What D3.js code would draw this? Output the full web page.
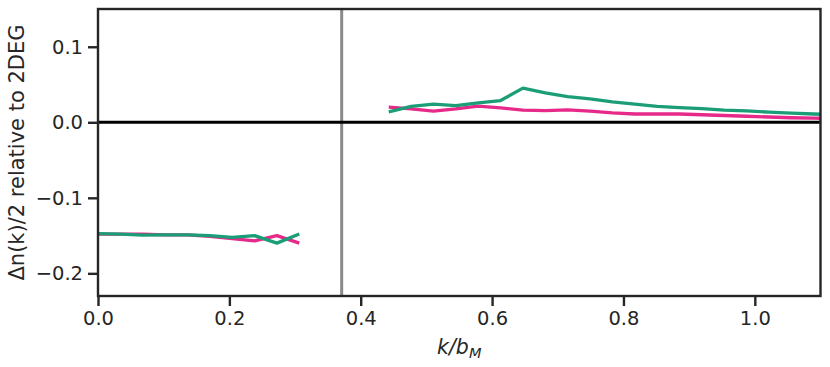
<!DOCTYPE html>
<html lang="en">
<head>
  <meta charset="UTF-8">
  <title>Δn(k)/2 relative to 2DEG</title>
  <script src="https://cdn.jsdelivr.net/npm/d3@7"></script>
  <style>
    * { margin: 0; padding: 0; }
    body { background: #fff; }
    svg { display: block; }
    svg text { font-family: "DejaVu Sans", sans-serif; }
    .tick text { fill: #262626; }
  </style>
</head>
<body>
  <div id="chart"></div>
  <script>
  // k grid step (k / b_M)
  var dk = 0.03405;
  // inner segment: n = 0..9, outer segment: n = 13..33
  var leftN = [0, 1, 2, 3, 4, 5, 6, 7, 8, 9];
  var rightN = [13, 14, 15, 16, 17, 18, 19, 20, 21, 22, 23, 24, 25, 26, 27, 28, 29, 30, 31, 32, 33];

  var pinkLeft = [-0.148, -0.148, -0.148, -0.149, -0.149, -0.151, -0.154, -0.157, -0.150, -0.160];
  var greenLeft = [-0.1475, -0.148, -0.1495, -0.149, -0.149, -0.150, -0.1525, -0.1500, -0.160, -0.148];

  var pinkRight = [0.020, 0.0177, 0.0148, 0.0177, 0.0215, 0.019, 0.016, 0.0155, 0.0165, 0.0147, 0.0125,
                   0.011, 0.011, 0.011, 0.010, 0.009, 0.008, 0.007, 0.006, 0.0055, 0.005];
  var greenRight = [0.0137, 0.021, 0.024, 0.022, 0.0258, 0.0288, 0.0452, 0.039, 0.034, 0.031, 0.027,
                    0.024, 0.021, 0.0195, 0.018, 0.016, 0.015, 0.0135, 0.012, 0.011, 0.010];

  var kBoundary = 0.371;
  var xTicks = [0.0, 0.2, 0.4, 0.6, 0.8, 1.0];
  var yTicks = [-0.2, -0.1, 0.0, 0.1];

  var width = 830, height = 367;
  var margin = {top: 9, right: 9.5, bottom: 71, left: 98};
  var w = width - margin.left - margin.right;
  var h = height - margin.top - margin.bottom;

  var svg = d3.select("#chart").append("svg")
      .attr("width", width)
      .attr("height", height);
  var g = svg.append("g")
      .attr("transform", "translate(" + margin.left + "," + margin.top + ")");

  var x = d3.scaleLinear().domain([0, 1.1]).range([0, w]);
  var y = d3.scaleLinear().domain([-0.23, 0.15]).range([h, 0]);

  svg.append("defs").append("clipPath").attr("id", "clip")
    .append("rect").attr("width", w).attr("height", h);

  var plot = g.append("g").attr("clip-path", "url(#clip)");

  // vertical boundary and zero line
  plot.append("line")
      .attr("x1", x(kBoundary)).attr("x2", x(kBoundary))
      .attr("y1", 0).attr("y2", h)
      .attr("stroke", "#8a8a8a").attr("stroke-width", 3);
  plot.append("line")
      .attr("x1", 0).attr("x2", w)
      .attr("y1", y(0)).attr("y2", y(0))
      .attr("stroke", "#000").attr("stroke-width", 3);

  var line = d3.line()
      .x(function (d) { return x(d[0]); })
      .y(function (d) { return y(d[1]); });

  function pairs(ns, vals) {
    return ns.map(function (n, i) { return [n * dk, vals[i]]; });
  }

  var series = [
    {color: "#e7298a", data: pairs(leftN, pinkLeft)},
    {color: "#e7298a", data: pairs(rightN, pinkRight)},
    {color: "#1b9e77", data: pairs(leftN, greenLeft)},
    {color: "#1b9e77", data: pairs(rightN, greenRight)}
  ];

  plot.selectAll("path.series")
    .data(series)
    .enter()
    .append("path")
      .attr("class", "series")
      .attr("fill", "none")
      .attr("stroke", function (d) { return d.color; })
      .attr("stroke-width", 3.3)
      .attr("stroke-linejoin", "round")
      .attr("d", function (d) { return line(d.data); });

  // axes
  var xAxis = g.append("g")
      .attr("transform", "translate(0," + h + ")")
      .call(d3.axisBottom(x).tickValues(xTicks).tickFormat(d3.format(".1f"))
        .tickSize(10).tickPadding(5).tickSizeOuter(0));
  var yAxis = g.append("g")
      .call(d3.axisLeft(y).tickValues(yTicks).tickFormat(function (d) {
          return d3.format(".1f")(d).replace("-", "\u2212");
        })
        .tickSize(10).tickPadding(5).tickSizeOuter(0));

  [xAxis, yAxis].forEach(function (a) {
    a.attr("font-family", "DejaVu Sans, sans-serif").attr("font-size", 19.5);
    a.select(".domain").remove();
    a.selectAll(".tick line").attr("stroke", "#262626").attr("stroke-width", 2.4);
  });

  // frame
  g.append("rect")
      .attr("width", w).attr("height", h)
      .attr("fill", "none")
      .attr("stroke", "#262626").attr("stroke-width", 2.4);

  // labels
  var xl = svg.append("text")
      .attr("x", margin.left + w / 2)
      .attr("y", 354)
      .attr("text-anchor", "middle")
      .attr("fill", "#262626")
      .style("font-size", "20.5px")
      .style("font-style", "italic");
  xl.append("tspan").text("k/b");
  xl.append("tspan").attr("dy", 4).style("font-size", "14.5px").text("M");

  svg.append("text")
      .attr("transform", "translate(24," + (margin.top + h / 2) + ") rotate(-90)")
      .attr("text-anchor", "middle")
      .attr("fill", "#262626")
      .style("font-size", "21px")
      .text("Δn(k)/2 relative to 2DEG");
  </script>
</body>
</html>
